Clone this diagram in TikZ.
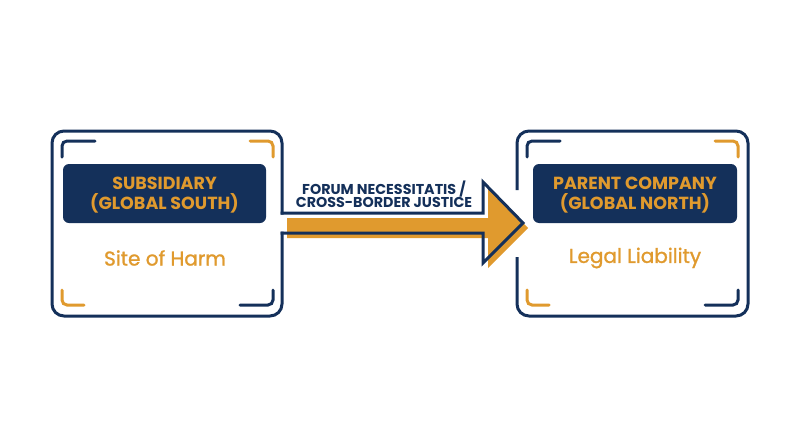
\documentclass[tikz,border=0pt]{standalone}
\usepackage{fontspec}
\setmainfont{Poppins}
\newfontfamily\popmed[FakeBold=1.2]{Poppins}
\definecolor{navy}{HTML}{14305A}
\definecolor{gold}{HTML}{E09A2E}
\begin{document}
\begin{tikzpicture}[x=1pt,y=-1pt,
  frame/.style={draw=navy,line width=3pt},
  bracketn/.style={draw=navy,line width=3pt,line cap=round,rounded corners=5pt},
  bracketo/.style={draw=gold,line width=3pt,line cap=round,rounded corners=5pt},
  labelbox/.style={fill=navy,rounded corners=6pt,minimum width=203pt,minimum height=59pt,inner sep=0pt},
  labeltext/.style={text=gold,font=\fontsize{17.5}{19.5}\selectfont\bfseries,align=center},
  subtext/.style={text=gold,font=\popmed\fontsize{20}{22}\selectfont},
  arrowtext/.style={text=navy,font=\fontsize{14.3}{13}\selectfont\bfseries,align=center}]
\useasboundingbox[fill=white] (0,0) rectangle (800,447);
% orange arrow (behind)
\fill[gold] (287,218) -- (488,218) -- (488,187) -- (528,228) -- (488,268) -- (488,238) -- (287,238) -- cycle;
% left frame + arrow outline
\draw[frame,rounded corners=12pt,line cap=rect] (282,213) -- (282,131) -- (52,131) -- (52,316) -- (282,316) -- (282,233);
\draw[frame,line join=miter,line cap=rect] (282,213) -- (483,213) -- (483,182) -- (523,223) -- (483,263) -- (483,233) -- (282,233);
% right frame with gap
\draw[frame,rounded corners=12pt,line cap=butt] (517,190) -- (517,131) -- (748,131) -- (748,316) -- (517,316) -- (517,257);
% brackets left
\draw[bracketn] (95,141) -- (62,141) -- (62,157);
\draw[bracketo] (250,141) -- (273,141) -- (273,157);
\draw[bracketo] (62,290) -- (62,305) -- (84,305);
\draw[bracketn] (240,305) -- (273,305) -- (273,290);
% brackets right
\draw[bracketn] (560,141) -- (527,141) -- (527,157);
\draw[bracketo] (715,141) -- (738,141) -- (738,157);
\draw[bracketo] (527,290) -- (527,305) -- (549,305);
\draw[bracketn] (705,305) -- (738,305) -- (738,290);
% label boxes
\node[labelbox] (lbox) at (164.5,193.5) {};
\node[labeltext] (ltext) at ([yshift=-1.5pt]lbox.center) {SUBSIDIARY\\(GLOBAL SOUTH)};
\node[subtext] (lsub) at (165,258) {Site of Harm};
\node[labelbox,minimum width=204pt] (rbox) at (635,193.5) {};
\node[labeltext] (rtext) at ([yshift=-1.5pt]rbox.center) {PARENT COMPANY\\(GLOBAL NORTH)};
\node[subtext] (rsub) at (635,258) {Legal Liability};
% arrow label
\node[arrowtext] (atext) at (384,194.5) {FORUM NECESSITATIS /\\CROSS-BORDER JUSTICE};
\end{tikzpicture}
\end{document}
